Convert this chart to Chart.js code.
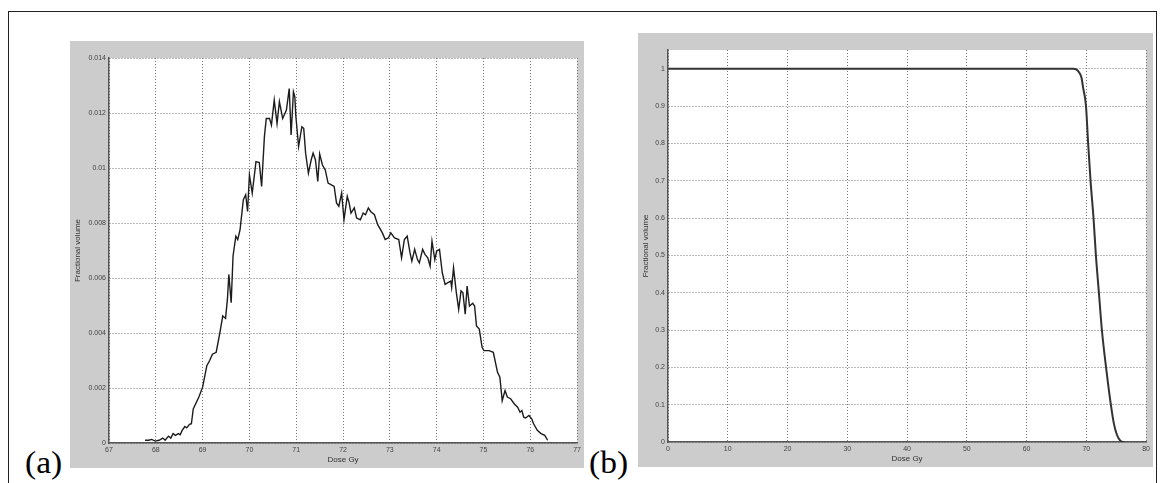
<!DOCTYPE html>
<html>
<head>
<meta charset="utf-8">
<script src="https://cdn.jsdelivr.net/npm/chart.js@4/dist/chart.umd.min.js"></script>
<style>
  html, body { margin: 0; padding: 0; background: #fff; }
  body { width: 1163px; height: 483px; position: relative; overflow: hidden; }
  .moldura { position: absolute; left: 8px; top: 11px; width: 1149px; height: 500px;
             border: 1.5px solid #222; border-bottom: none; box-sizing: border-box; }
  .painel { position: absolute; background: #cccccc; }
  #painelA { left: 70px; top: 41px; width: 514px; height: 427px; }
  #painelB { left: 638px; top: 33px; width: 515px; height: 434px; }
  .rotulo { position: absolute; font-family: "Liberation Serif", serif; font-weight: 400;
            font-size: 31px; line-height: 1; color: #000; transform-origin: left top; transform: scaleX(1.08); }
</style>
</head>
<body>
<div class="moldura"></div>
<div class="painel" id="painelA"><canvas id="graficoA"></canvas></div>
<div class="painel" id="painelB"><canvas id="graficoB"></canvas></div>
<div class="rotulo" style="left:25px; top:447px;">(a)</div>
<div class="rotulo" style="left:589px; top:447px;">(b)</div>

<script>
// (a) histograma diferencial de dose
const doseA = [67.77, 67.85, 67.91, 67.99, 68.07, 68.15, 68.2, 68.27, 68.32, 68.37, 68.42, 68.48, 68.52,
  68.56, 68.62, 68.66, 68.72, 68.76, 68.8, 68.92, 69.0, 69.09, 69.15, 69.21, 69.29, 69.37, 69.43, 69.49,
  69.53, 69.56, 69.61, 69.65, 69.71, 69.75, 69.8, 69.87, 69.92, 69.96, 70.0, 70.06, 70.14, 70.21, 70.26,
  70.32, 70.36, 70.43, 70.47, 70.53, 70.59, 70.64, 70.71, 70.79, 70.85, 70.89, 70.94, 70.97, 70.99, 71.05,
  71.12, 71.16, 71.2, 71.26, 71.32, 71.36, 71.41, 71.46, 71.5, 71.56, 71.62, 71.68, 71.75, 71.81, 71.86,
  71.91, 71.97, 72.02, 72.09, 72.13, 72.17, 72.24, 72.29, 72.37, 72.43, 72.48, 72.54, 72.59, 72.67, 72.74,
  72.78, 72.84, 72.9, 72.97, 73.02, 73.1, 73.19, 73.25, 73.31, 73.37, 73.43, 73.47, 73.53, 73.59, 73.63,
  73.7, 73.75, 73.81, 73.86, 73.9, 73.96, 74.0, 74.06, 74.12, 74.18, 74.24, 74.3, 74.32, 74.36, 74.42,
  74.47, 74.52, 74.56, 74.61, 74.65, 74.7, 74.77, 74.81, 74.85, 74.91, 74.97, 75.01, 75.12, 75.21, 75.3,
  75.35, 75.4, 75.46, 75.51, 75.58, 75.66, 75.73, 75.78, 75.82, 75.86, 75.9, 75.97, 76.03, 76.07, 76.15,
  76.23, 76.31, 76.37];
const volA = [0.0001, 0.0001, 0.00013, 0.00007, 0.0001, 0.00018, 0.0001, 0.00025, 0.00018, 0.00034, 0.00028,
  0.00034, 0.0003, 0.00045, 0.0006, 0.00055, 0.00068, 0.0007, 0.00124, 0.00167, 0.00203, 0.00281, 0.003,
  0.00323, 0.0033, 0.00402, 0.00462, 0.00453, 0.00523, 0.00613, 0.0051, 0.0068, 0.00752, 0.0074, 0.00776,
  0.00885, 0.00903, 0.00842, 0.00975, 0.00909, 0.01023, 0.0102, 0.00933, 0.01114, 0.0118, 0.0118, 0.01156,
  0.01247, 0.01162, 0.01241, 0.0118, 0.01211, 0.01289, 0.0112, 0.01277, 0.01259, 0.01192, 0.01078, 0.0115,
  0.01144, 0.01054, 0.00981, 0.0103, 0.01054, 0.0103, 0.00951, 0.01051, 0.01011, 0.00993, 0.00945, 0.00939,
  0.00933, 0.00873, 0.00861, 0.00909, 0.00812, 0.00897, 0.00873, 0.00836, 0.00855, 0.00818, 0.00812, 0.00836,
  0.0083, 0.00855, 0.00842, 0.0083, 0.00794, 0.00782, 0.00764, 0.0074, 0.00746, 0.00764, 0.00746, 0.0074,
  0.00673, 0.0074, 0.00752, 0.00692, 0.00661, 0.00704, 0.00667, 0.00655, 0.00704, 0.00686, 0.00673, 0.00643,
  0.00734, 0.00667, 0.00698, 0.00704, 0.00619, 0.00577, 0.00583, 0.00589, 0.00565, 0.00637, 0.00547, 0.00486,
  0.00553, 0.00547, 0.00468, 0.00571, 0.00498, 0.00508, 0.00498, 0.00426, 0.00414, 0.00348, 0.00336, 0.00336,
  0.0033, 0.00257, 0.00239, 0.00154, 0.00191, 0.00167, 0.00161, 0.00142, 0.0013, 0.00112, 0.00118, 0.00094,
  0.00091, 0.001, 0.00088, 0.0007, 0.00046, 0.00034, 0.00028, 0.0001];
const xTicksA = [67, 68, 69, 70, 71, 72, 73, 74, 75, 76, 77];
const yTicksA = [0, 0.002, 0.004, 0.006, 0.008, 0.01, 0.012, 0.014];

// (b) histograma cumulativo
const doseB = [0, 67.8, 68.3, 68.8, 69.2, 69.45, 69.94, 70.3, 70.7, 71.2, 71.6, 72.1, 72.6, 73.3, 74.1,
  74.6, 75.1, 75.6, 76.2, 76.4];
const volB = [1, 1, 0.998, 0.99, 0.975, 0.95, 0.9, 0.8, 0.7, 0.6, 0.5, 0.4, 0.3, 0.2, 0.1,
  0.05, 0.02, 0.005, 0, 0];
const xTicksB = [0, 10, 20, 30, 40, 50, 60, 70, 80];
const yTicksB = [0, 0.1, 0.2, 0.3, 0.4, 0.5, 0.6, 0.7, 0.8, 0.9, 1];

const fundoBranco = {
  id: "fundoBranco",
  beforeDraw(chart) {
    const { ctx, chartArea: a } = chart;
    ctx.save();
    ctx.fillStyle = "#ffffff";
    ctx.fillRect(a.left, a.top, a.right - a.left, a.bottom - a.top);
    ctx.restore();
  }
};

const fonteTick = { family: "'Liberation Sans', Arial, sans-serif", size: 7 };
const fonteTitulo = { family: "'Liberation Sans', Arial, sans-serif", size: 8, lineHeight: 1.2 };

function eixos(xTicks, yTicks, yMax, largY) {
  return {
    x: {
      type: "linear",
      min: xTicks[0],
      max: xTicks[xTicks.length - 1],
      afterBuildTicks: s => { s.ticks = xTicks.map(v => ({ value: v })); },
      afterFit: s => { s.height = 25; },
      ticks: { font: fonteTick, color: "#444", padding: 3, maxRotation: 0, autoSkip: false,
               callback: v => String(v) },
      grid: { color: "#777", lineWidth: 1, drawTicks: false },
      border: { display: true, color: "#555", width: 1.5, dash: [1, 2] },
      title: { display: true, text: "Dose Gy", font: fonteTitulo, color: "#333", padding: { top: 0, bottom: 3 } }
    },
    y: {
      type: "linear",
      min: yTicks[0],
      max: yMax,
      afterBuildTicks: s => { s.ticks = yTicks.map(v => ({ value: v })); },
      afterFit: s => { s.width = largY; },
      ticks: { font: fonteTick, color: "#444", padding: 3, autoSkip: false,
               callback: v => String(v) },
      grid: { color: "#777", lineWidth: 1, drawTicks: false },
      border: { display: true, color: "#555", width: 1.5, dash: [1, 2] },
      title: { display: true, text: "Fractional volume", font: fonteTitulo, color: "#333",
               padding: { top: 3, bottom: 0 } }
    }
  };
}

function criarGrafico(id, doses, vols, cor, largura, xTicks, yTicks, yMax, largY, suave) {
  return new Chart(document.getElementById(id), {
    type: "line",
    data: {
      datasets: [{
        data: doses.map((d, i) => ({ x: d, y: vols[i] })),
        borderColor: cor,
        borderWidth: largura,
        pointRadius: 0,
        tension: 0,
        cubicInterpolationMode: suave ? "monotone" : "default",
        fill: false
      }]
    },
    options: {
      responsive: true,
      maintainAspectRatio: false,
      animation: false,
      layout: { padding: { top: 17, right: 5, left: 0, bottom: 0 } },
      plugins: { legend: { display: false }, tooltip: { enabled: false } },
      scales: eixos(xTicks, yTicks, yMax, largY)
    },
    plugins: [fundoBranco]
  });
}

criarGrafico("graficoA", doseA, volA, "#1c1c1c", 1.4, xTicksA, yTicksA, 0.014, 39, false);
criarGrafico("graficoB", doseB, volB, "#333333", 2, xTicksB, yTicksB, 1.05, 30, true);
</script>
</body>
</html>
